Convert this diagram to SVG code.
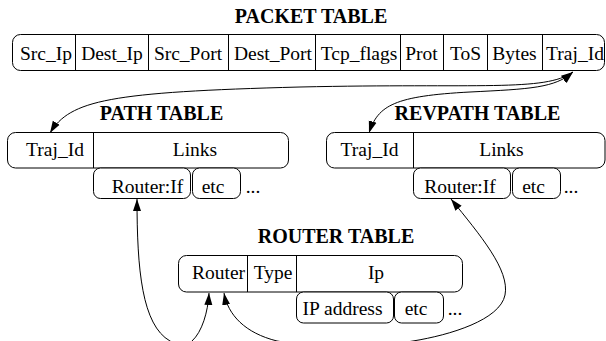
<svg xmlns="http://www.w3.org/2000/svg" width="606" height="341" viewBox="0 0 606 341">
<style>
.box{fill:#fff;stroke:#000;stroke-width:1}
.div{stroke:#000;stroke-width:1}
.t{font-family:"Liberation Serif","Times New Roman",serif;font-size:19.5px;text-anchor:middle;fill:#000}
.h{font-family:"Liberation Serif","Times New Roman",serif;font-size:20px;font-weight:bold;text-anchor:middle;fill:#000}
.c{fill:none;stroke:#000;stroke-width:1}
</style>
<defs>
<marker id="ah" markerUnits="userSpaceOnUse" markerWidth="13" markerHeight="9" refX="12" refY="4.5" orient="auto-start-reverse">
<path d="M0,0.5 L12,4.5 L0,8.5 Z" fill="#000"/>
</marker>
</defs>
<g id="packet">
<text class="h" x="311" y="23">PACKET TABLE</text>
<rect class="box" x="12.5" y="34.5" width="592" height="36" rx="8"/>
<path class="div" d="M75.5,34.5V70.5M148.5,34.5V70.5M228.5,34.5V70.5M315.5,34.5V70.5M400.5,34.5V70.5M443.5,34.5V70.5M487.5,34.5V70.5M542.5,34.5V70.5"/>
<text class="t" x="46" y="60">Src_Ip</text>
<text class="t" x="112" y="60">Dest_Ip</text>
<text class="t" x="188" y="60">Src_Port</text>
<text class="t" x="273" y="60">Dest_Port</text>
<text class="t" x="359" y="60">Tcp_flags</text>
<text class="t" x="421.5" y="60">Prot</text>
<text class="t" x="465.5" y="60">ToS</text>
<text class="t" x="514.5" y="60">Bytes</text>
<text class="t" x="575" y="60">Traj_Id</text>
</g>
<g id="path">
<text class="h" x="161.5" y="120">PATH TABLE</text>
<rect class="box" x="7.5" y="132.5" width="281" height="35.5" rx="8"/>
<path class="div" d="M93.5,132.5V168"/>
<text class="t" x="55" y="156">Traj_Id</text>
<text class="t" x="195" y="156">Links</text>
<rect class="box" x="93.5" y="168" width="97" height="30.5" rx="7"/>
<rect class="box" x="192.5" y="168" width="48" height="30.5" rx="7"/>
<text class="t" x="147.5" y="193">Router:If</text>
<text class="t" x="213" y="193">etc</text>
<text class="t" x="253" y="193">...</text>
</g>
<g id="revpath">
<text class="h" x="477.5" y="120">REVPATH TABLE</text>
<rect class="box" x="326.5" y="132.5" width="278.5" height="35.5" rx="8"/>
<path class="div" d="M413.5,132.5V168"/>
<text class="t" x="369.5" y="156">Traj_Id</text>
<text class="t" x="501.5" y="156">Links</text>
<rect class="box" x="413.5" y="168" width="97" height="30.5" rx="7"/>
<rect class="box" x="512.5" y="168" width="48" height="30.5" rx="7"/>
<text class="t" x="460" y="193">Router:If</text>
<text class="t" x="533.5" y="193">etc</text>
<text class="t" x="571" y="193">...</text>
</g>
<g id="router">
<text class="h" x="336" y="243">ROUTER TABLE</text>
<rect class="box" x="178.5" y="255.5" width="284" height="36.5" rx="8"/>
<path class="div" d="M247.5,255.5V292M296.5,255.5V292"/>
<text class="t" x="218.5" y="279">Router</text>
<text class="t" x="273" y="279">Type</text>
<text class="t" x="376" y="279">Ip</text>
<rect class="box" x="296.5" y="292" width="97" height="31" rx="7"/>
<rect class="box" x="394.5" y="292" width="49" height="31" rx="7"/>
<text class="t" x="342.5" y="315">IP address</text>
<text class="t" x="416" y="315">etc</text>
<text class="t" x="455" y="315">...</text>
</g>
<g id="connectors">
<path class="c" marker-start="url(#ah)" marker-end="url(#ah)" d="M50,133 C70,100 110,92 300,87 C480,83 545,92 573,72"/>
<path class="c" marker-start="url(#ah)" marker-end="url(#ah)" d="M369,133 C378,105 395,96 470,92 C530,89 555,88 573,72"/>
<path class="c" marker-start="url(#ah)" marker-end="url(#ah)" d="M137,199 C137,270 142,325 170,341 C180,348 187,348 192,341 C202,332 208,312 209,293"/>
<path class="c" marker-start="url(#ah)" marker-end="url(#ah)" d="M451,199 C480,235 510,270 505,295 C500,320 450,335 413,341 C380,347 310,347 277,341 C245,333 228,315 224,293"/>
</g>
</svg>
